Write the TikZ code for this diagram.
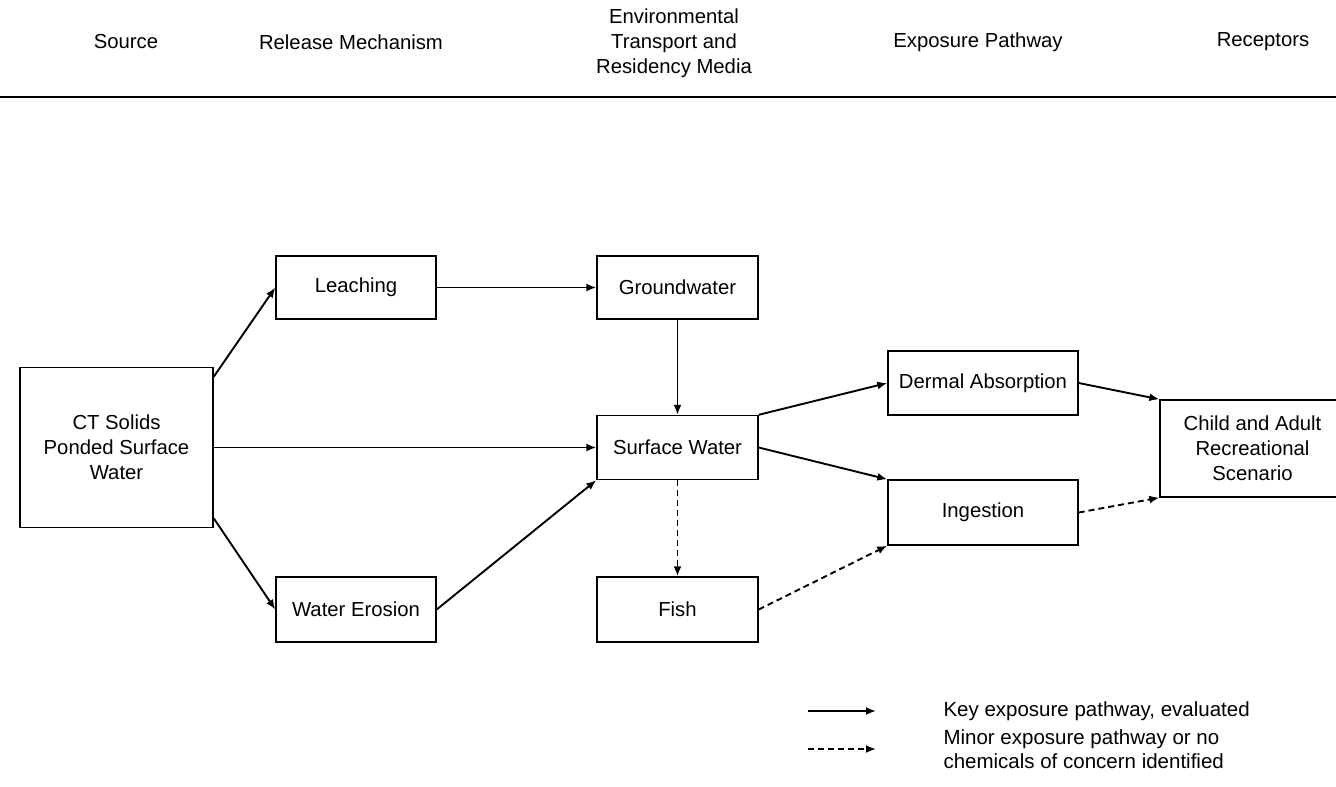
\documentclass[tikz,border=0pt]{standalone}
\usepackage{fontspec}
\setmainfont{Liberation Sans}
\usetikzlibrary{arrows.meta}
\begin{document}
\begin{tikzpicture}[x=1pt,y=-1pt,
  box/.style={draw, line width=1.4pt, inner sep=0pt, align=center,
    font=\fontsize{20.3}{25}\selectfont},
  head/.style={align=center, font=\fontsize{20.3}{25}\selectfont},
  key/.style={line width=1.9pt, -{Latex[length=10pt,width=8pt]}},
  minor/.style={key, dash pattern=on 6pt off 4pt},
  legtext/.style={anchor=west, align=left, font=\fontsize{20.5}{24}\selectfont}]
\useasboundingbox[clip] (0,0) rectangle (1336,787);

% column headings and rule
\node[head] (h1) at (126,42) {Source};
\node[head] (h2) at (351,42) {Release Mechanism};
\node[head] (h3) at (674,43.5) {Environmental\\Transport and\\Residency Media};
\node[head] (h4) at (978,42) {Exposure Pathway};
\node[head] (h5) at (1263,42) {Receptors};
\coordinate (r1) at (0,97);
\coordinate (r2) at (1336,97);
\draw[line width=1.8pt] (r1) -- (r2);

% boxes
\node[box, minimum width=193pt, minimum height=160pt] (src) at (116.5,447.5)
  {CT Solids\\Ponded Surface\\Water};
\node[box, minimum width=160pt, minimum height=63pt] (leach) at (356,287.5) {Leaching};
\node[box, minimum width=160pt, minimum height=65pt] (ero) at (356,609.5) {Water Erosion};
\node[box, minimum width=161pt, minimum height=63pt] (gw) at (677.5,287.5) {Groundwater};
\node[box, minimum width=161pt, minimum height=64pt] (sw) at (677.5,447.5) {Surface Water};
\node[box, minimum width=161pt, minimum height=65pt] (fish) at (677.5,609.5) {Fish};
\node[box, minimum width=190pt, minimum height=64pt] (derm) at (983,383) {Dermal Absorption};
\node[box, minimum width=190pt, minimum height=65pt] (ing) at (983,512.5) {Ingestion};
\node[box, minimum width=185pt, minimum height=97pt] (child) at (1252.5,448.5)
  {Child and Adult\\Recreational\\Scenario};

% pathways
\draw[key] ([yshift=-10pt]src.north east) -- (leach.west);
\draw[key] (src.east) -- (sw.west);
\draw[key] ([yshift=10pt]src.south east) -- (ero.west);
\draw[key] (leach.east) -- (gw.west);
\draw[key] (ero.east) -- (sw.south west);
\draw[key] (gw.south) -- (sw.north);
\draw[key] (sw.north east) -- (derm.west);
\draw[key] (sw.east) -- (ing.north west);
\draw[minor] (sw.south) -- (fish.north);
\draw[minor] (fish.east) -- (ing.south west);
\draw[key] (derm.east) -- (child.north west);
\draw[minor] (ing.east) -- (child.south west);

% legend
\coordinate (k1) at (808,711);
\coordinate (k2) at (876,711);
\draw[key] (k1) -- (k2);
\node[legtext] (kt) at (940,711) {Key exposure pathway, evaluated};
\coordinate (m1) at (808,749);
\coordinate (m2) at (876,749);
\draw[minor] (m1) -- (m2);
\node[legtext] (mt) at (940,749) {Minor exposure pathway or no\\chemicals of concern identified};
\end{tikzpicture}
\end{document}
